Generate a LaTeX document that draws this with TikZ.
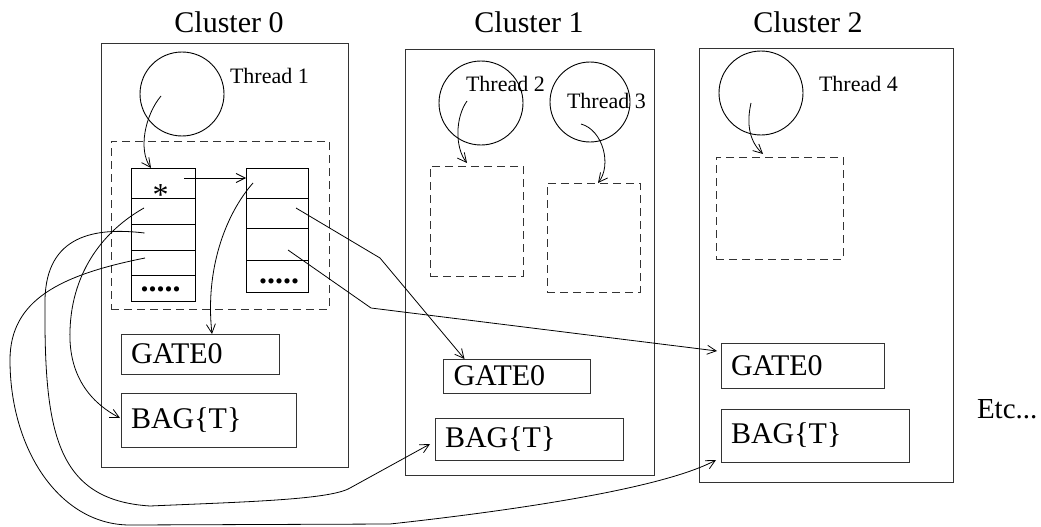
\documentclass[tikz,border=0pt]{standalone}
\usepackage{fontspec}
\setmainfont{Liberation Serif}
\usetikzlibrary{arrows.meta,calc}
\begin{document}
\begin{tikzpicture}[x=1pt,y=-1pt,
  every node/.style={inner sep=0pt, outer sep=0pt},
  frame/.style={draw=black!80, line width=0.9pt},
  clusterbox/.style={frame, anchor=north west},
  dbox/.style={draw=black!80, line width=0.9pt, dash pattern=on 8pt off 5pt, anchor=north west},
  thread/.style={draw, circle, line width=0.9pt, minimum size=84pt},
  cell/.style={draw, line width=0.9pt, anchor=north west},
  tbox/.style={frame, anchor=north west, inner xsep=10pt, align=left, font=\fontsize{30}{30}\selectfont},
  ctitle/.style={font=\fontsize{30}{30}\selectfont, anchor=base},
  tlabel/.style={font=\fontsize{22}{22}\selectfont, anchor=base west},
  conn/.style={line width=0.8pt, -{Straight Barb[length=9pt,width=9pt]}},
]
\useasboundingbox (0,0) rectangle (1041,527);

% clusters
\node[clusterbox, minimum width=247pt, minimum height=424pt] (c0) at (101,43) {};
\node[clusterbox, minimum width=249pt, minimum height=426pt] (c1) at (405,49) {};
\node[clusterbox, minimum width=254pt, minimum height=434pt] (c2) at (699,48) {};
\node[ctitle] (ct0) at (229,33) {Cluster 0};
\node[ctitle] (ct1) at (529,33) {Cluster 1};
\node[ctitle] (ct2) at (808,33) {Cluster 2};

% threads
\node[thread] (t1) at (182,94) {};
\node[thread] (t2) at (481,103) {};
\node[thread, minimum size=80pt] (t3) at (590,102) {};
\node[thread] (t4) at (761,93) {};
\node[tlabel] (l1) at (230,83) {Thread 1};
\node[tlabel] (l2) at (466,92) {Thread 2};
\node[tlabel] (l3) at (567,108) {Thread 3};
\node[tlabel] (l4) at (819,91) {Thread 4};

% dashed boxes
\node[dbox, minimum width=218pt, minimum height=168pt] (d0) at (111,141) {};
\node[dbox, minimum width=93pt, minimum height=110pt] (dA) at (430,166) {};
\node[dbox, minimum width=93pt, minimum height=109pt] (dB) at (547,183) {};
\node[dbox, minimum width=127pt, minimum height=102pt] (d2) at (716,157) {};

% arrays
\node[cell, minimum width=64pt, minimum height=30pt] (L1) at (131,168) {};
\node[cell, minimum width=64pt, minimum height=26pt] (L2) at (131,198) {};
\node[cell, minimum width=64pt, minimum height=26pt] (L3) at (131,224) {};
\node[cell, minimum width=64pt, minimum height=25pt] (L4) at (131,250) {};
\node[cell, minimum width=64pt, minimum height=26pt] (L5) at (131,275) {};
\node[cell, minimum width=62pt, minimum height=30pt] (R1) at (246,168) {};
\node[cell, minimum width=62pt, minimum height=30pt] (R2) at (246,198) {};
\node[cell, minimum width=62pt, minimum height=32pt] (R3) at (246,228) {};
\node[cell, minimum width=62pt, minimum height=32pt] (R4) at (246,260) {};
\node[font=\fontsize{32}{32}\selectfont, anchor=base] (star) at (160.5,205) {*};
\node[font=\fontsize{32}{32}\selectfont\bfseries, anchor=base] (dotsL) at (160.5,291.5) {.....};
\node[font=\fontsize{32}{32}\selectfont\bfseries, anchor=base] (dotsR) at (279,283) {.....};

% gate / bag boxes
\node[tbox, text width=138pt, minimum height=40pt] (g0) at (121,334) {GATE0};
\node[tbox, text width=155pt, minimum height=54pt] (b0) at (121,393) {BAG\{T\}};
\node[tbox, text width=126.5pt, minimum height=34pt] (g1) at (443.5,359) {GATE0};
\node[tbox, text width=168pt, minimum height=42pt] (b1) at (435,418) {BAG\{T\}};
\node[tbox, text width=143pt, minimum height=45pt] (g2) at (721,343) {GATE0};
\node[tbox, text width=168pt, minimum height=53pt] (b2) at (721,409) {BAG\{T\}};
\node[font=\fontsize{29}{29}\selectfont, anchor=base west] (etc) at (977,418) {Etc...};

% connector start points
\coordinate (s1) at (161,96);
\coordinate (s2) at (184,178);
\coordinate (s3) at (253,183);
\coordinate (s4) at (296,208);
\coordinate (k4) at (380,258);
\coordinate (s5) at (288,250);
\coordinate (k5) at (371,308);
\coordinate (s6) at (144,208);
\coordinate (s7) at (144.5,233);
\coordinate (s8) at (145,258);
\coordinate (u2) at (467,101);
\coordinate (u3) at (581,124);
\coordinate (u4) at (751,103);

\draw[conn] (s1) .. controls (145,115) and (138,150) .. ($(L1.north west)+(20,0)$);
\draw[conn] (s2) -- (s2 -| R1.west);
\draw[conn] (s3) .. controls (225,215) and (205,270) .. ($(g0.north west)+(91,0)$);
\draw[conn] (s4) -- (k4) -- ($(g1.north west)+(21,0)$);
\draw[conn] (s5) -- (k5) -- ($(g2.north west)+(-4,8)$);
\draw[conn] (s6) .. controls (105,230) and (72,270) .. (70,330)
  .. controls (68,380) and (95,405) .. ($(b0.north west)+(-1,25)$);
\draw[conn] (s7) .. controls (95,227) and (46,235) .. (45,300)
  .. controls (44,430) and (55,500) .. (150,506)
  .. controls (240,502) and (330,500) .. (350,488)
  -- ($(b1.north west)+(-5,26)$);
\draw[conn] (s8) .. controls (60,275) and (10,300) .. (10,360)
  .. controls (10,450) and (60,525) .. (130,525)
  -- (390,524)
  .. controls (500,512) and (660,490) .. ($(b2.north west)+(-5,51)$);
\draw[conn] (u2) .. controls (455,118) and (455,148) .. ($(dA.north west)+(37,-3)$);
\draw[conn] (u3) .. controls (603,130) and (612,165) .. ($(dB.north west)+(51,0)$);
\draw[conn] (u4) .. controls (746,125) and (750,142) .. ($(d2.north west)+(47,-3)$);
\end{tikzpicture}
\end{document}
